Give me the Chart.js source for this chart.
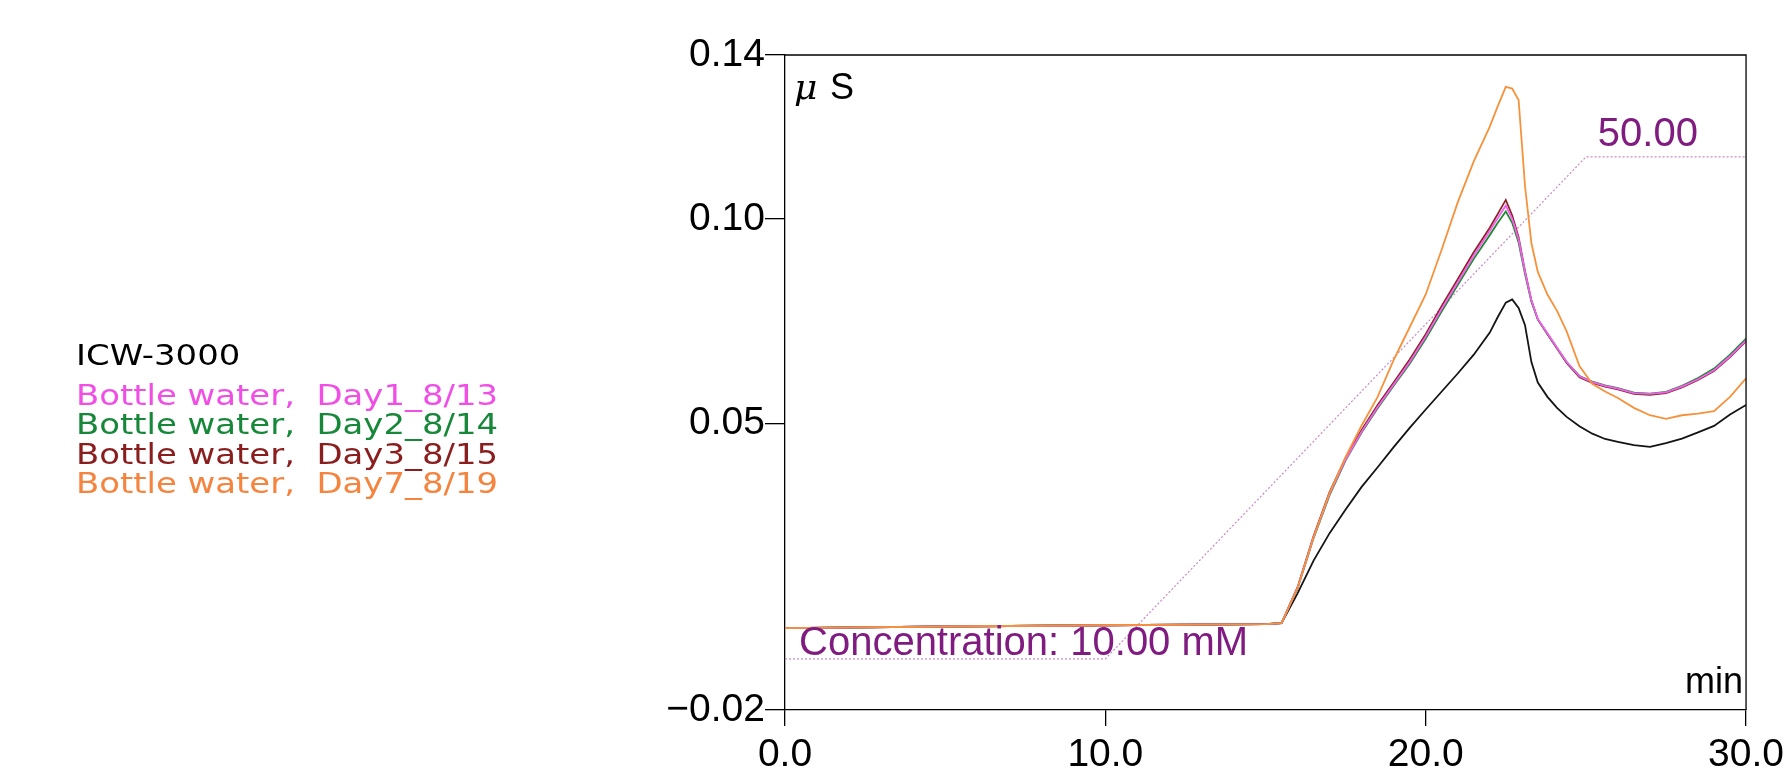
<!DOCTYPE html>
<html>
<head>
<meta charset="utf-8">
<script src="https://cdn.jsdelivr.net/npm/chart.js@4.4.1/dist/chart.umd.min.js"></script>
<style>
  html, body { margin: 0; padding: 0; background: #fff; }
  #wrap { position: relative; width: 1790px; height: 777px; }
</style>
</head>
<body>
<div id="wrap"><canvas id="chart" width="1790" height="777"></canvas></div>
<script>
// retention time (min)
const timeMin = [0, 5, 10, 15, 15.5, 16, 16.5, 17, 17.5, 18, 18.5, 19, 19.5, 20, 20.5, 21, 21.5, 22, 22.25,
  22.5, 22.7, 22.9, 23.1, 23.3, 23.5, 23.8, 24.1, 24.4, 24.8, 25.2, 25.6, 26, 26.5, 27, 27.5, 28, 28.5, 29, 29.5, 30];

// conductivity (uS)
const icw3000 = [0, .0004, .0007, .0010, .0012,
  .0085, .0165, .0232, .0290, .0345, .0393, .0442, .0489, .0534, .0578, .0622, .0668, .0722, .0760,
  .0795, .0803, .0782, .0740, .0650, .0600, .0565, .0538, .0516, .0493, .0475, .0462, .0455, .0447, .0443, .0452, .0463, .0478, .0494, .0522, .0545];
const day1 = [0, .0004, .0007, .0010, .0012,
  .0098, .0222, .0328, .0412, .0480, .0540, .0595, .0650, .0712, .0780, .0845, .0910, .0970, .1002,
  .1032, .1000, .0950, .0870, .0800, .0755, .0720, .0685, .0650, .0615, .0601, .0592, .0585, .0574, .0572, .0576, .0590, .0608, .0630, .0664, .0703];
const day2 = [0, .0004, .0007, .0010, .0012,
  .0097, .0220, .0325, .0410, .0478, .0537, .0592, .0646, .0707, .0774, .0838, .0902, .0960, .0990,
  .1018, .0990, .0942, .0865, .0797, .0754, .0719, .0684, .0650, .0616, .0602, .0593, .0586, .0575, .0573, .0577, .0592, .0611, .0634, .0668, .0707];
const day3 = [0, .0004, .0007, .0010, .0012,
  .0100, .0225, .0332, .0416, .0484, .0545, .0600, .0656, .0718, .0787, .0852, .0918, .0978, .1012,
  .1046, .1008, .0955, .0872, .0800, .0754, .0718, .0683, .0648, .0613, .0599, .0590, .0583, .0572, .0570, .0574, .0588, .0606, .0628, .0662, .0701];
const day7 = [0, .0004, .0007, .0010, .0012,
  .0098, .0222, .0330, .0418, .0495, .0565, .0655, .0735, .0815, .0925, .1040, .1140, .1225, .1275,
  .1322, .1318, .1290, .1080, .0940, .0870, .0815, .0775, .0725, .0640, .0597, .0578, .0562, .0538, .0520, .0511, .0520, .0524, .0530, .0565, .0610];

// eluent gradient (mM)
const gradTime = [0, 10, 25, 30];
const gradConc = [10, 10, 50, 50];

const xTicks = [0, 10, 20, 30];
const yTicks = [-0.02, 0.05, 0.10, 0.14];

const legendNames = ["ICW-3000", "Bottle water,  Day1_8/13", "Bottle water,  Day2_8/14",
  "Bottle water,  Day3_8/15", "Bottle water,  Day7_8/19"];
const legendColors = ["#000000", "#f14ee6", "#17883a", "#8a1d1d", "#f5843f"];
const lineColors = ["#141414", "#f25ef0", "#1f8c33", "#8e2222", "#f7923c"];

const pts = (arr) => timeMin.map((t, i) => ({ x: t, y: arr[i] }));

const tickFont = { family: "'Liberation Sans', Arial, sans-serif", size: 39 };

const extras = {
  id: "extras",
  afterDatasetsDraw(chart) {
    const { ctx, chartArea: a, scales } = chart;
    ctx.save();
    // top & right frame
    ctx.strokeStyle = "#000";
    ctx.lineWidth = 1.3;
    ctx.beginPath();
    ctx.moveTo(a.left, a.top);
    ctx.lineTo(a.right, a.top);
    ctx.lineTo(a.right, a.bottom);
    ctx.stroke();

    // unit labels
    ctx.fillStyle = "#000";
    ctx.textBaseline = "alphabetic";
    ctx.textAlign = "left";
    ctx.font = "italic 36px 'DejaVu Serif', serif";
    ctx.fillText("\u03bc", a.left + 9, a.top + 44);
    ctx.font = "36px 'Liberation Sans', Arial, sans-serif";
    ctx.fillText("S", a.left + 45, a.top + 44);
    ctx.textAlign = "right";
    ctx.fillText("min", a.right - 3, a.bottom - 17);

    // gradient annotations
    const xs = scales.x, y2 = scales.y2;
    ctx.fillStyle = "#801c80";
    ctx.font = "40px 'Liberation Sans', Arial, sans-serif";
    ctx.textAlign = "left";
    ctx.fillText("Concentration: " + gradConc[0].toFixed(2) + " mM", xs.getPixelForValue(gradTime[0]) + 14, y2.getPixelForValue(gradConc[0]) - 4);
    ctx.fillText(gradConc[2].toFixed(2), xs.getPixelForValue(gradTime[2]) + 12, y2.getPixelForValue(gradConc[2]) - 11);
    ctx.restore();
  },
  afterDraw(chart) {
    // text block at the left, in the wide gothic look of the original
    const ctx = chart.ctx;
    ctx.save();
    ctx.font = "29px 'DejaVu Sans', sans-serif";
    ctx.textBaseline = "middle";
    ctx.textAlign = "left";
    const sx = 422 / ctx.measureText(legendNames[1]).width;
    const rows = [357, 397, 426, 456, 485];
    ctx.translate(76, 0);
    ctx.scale(sx, 1);
    legendNames.forEach((n, i) => {
      ctx.fillStyle = legendColors[i];
      ctx.fillText(n, 0, rows[i]);
    });
    ctx.restore();
  }
};

const mkSet = (label, arr, color) => ({
  label, data: pts(arr), borderColor: color, backgroundColor: color,
  borderWidth: 1.8, pointRadius: 0, tension: 0, yAxisID: "y"
});

new Chart(document.getElementById("chart"), {
  type: "line",
  data: {
    datasets: [
      mkSet(legendNames[4], day7, lineColors[4]),
      mkSet(legendNames[1], day1, lineColors[1]),
      mkSet(legendNames[2], day2, lineColors[2]),
      mkSet(legendNames[3], day3, lineColors[3]),
      mkSet(legendNames[0], icw3000, lineColors[0]),
      {
        label: "Concentration",
        data: gradTime.map((t, i) => ({ x: t, y: gradConc[i] })),
        borderColor: "#c78ac6",
        borderWidth: 1.2,
        borderDash: [2, 2],
        pointRadius: 0,
        tension: 0,
        yAxisID: "y2"
      }
    ]
  },
  options: {
    responsive: false,
    animation: false,
    devicePixelRatio: 1,
    layout: { padding: { top: 55, right: 43, left: 0, bottom: 0 } },
    plugins: { legend: { display: false }, tooltip: { enabled: false } },
    scales: {
      x: {
        type: "linear",
        min: 0,
        max: 30,
        afterBuildTicks: (s) => { s.ticks = xTicks.map((v) => ({ value: v })); },
        afterFit: (s) => { s.height = 67; },
        ticks: {
          autoSkip: false, maxRotation: 0, padding: 6, color: "#000", font: tickFont,
          callback: (v) => Number(v).toFixed(1)
        },
        grid: { drawOnChartArea: false, drawTicks: true, tickLength: 16, color: "#000", lineWidth: 1.3 },
        border: { display: true, color: "#000", width: 1.3 }
      },
      y: {
        min: -0.02,
        max: 0.14,
        afterBuildTicks: (s) => { s.ticks = yTicks.map((v) => ({ value: v })); },
        afterFit: (s) => { s.width = 785; },
        ticks: {
          autoSkip: false, padding: 0, color: "#000", font: tickFont,
          callback: (v) => (v < 0 ? "\u2212" + Math.abs(v).toFixed(2) : Number(v).toFixed(2))
        },
        grid: { drawOnChartArea: false, drawTicks: true, tickLength: 20, color: "#000", lineWidth: 1.3 },
        border: { display: true, color: "#000", width: 1.3 }
      },
      y2: {
        type: "linear",
        display: false,
        min: 5.93,
        max: 58.12
      }
    }
  },
  plugins: [extras]
});
</script>
</body>
</html>
